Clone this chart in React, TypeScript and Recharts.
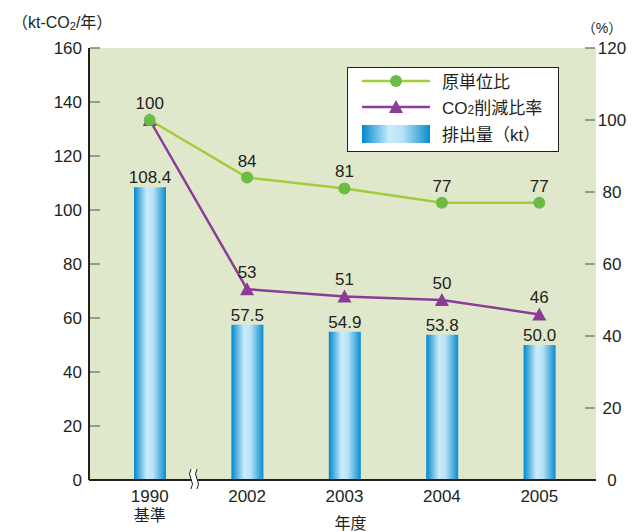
import React from "react";
import {
  ComposedChart,
  Bar,
  Line,
  XAxis,
  YAxis,
  CartesianGrid,
  LabelList,
} from "recharts";

const years = ["1990", "2002", "2003", "2004", "2005"];
const subLabels = ["基準", "", "", "", ""];
const emissions = [108.4, 57.5, 54.9, 53.8, 50.0];
const intensityRatio = [100, 84, 81, 77, 77];
const reductionRate = [100, 53, 51, 50, 46];
const leftTicks = [0, 20, 40, 60, 80, 100, 120, 140, 160];
const rightTicks = [0, 20, 40, 60, 80, 100, 120];

const data = years.map((year, i) => ({
  year,
  sub: subLabels[i],
  emission: emissions[i],
  intensity: intensityRatio[i],
  reduction: reductionRate[i],
}));

const FONT = '"Liberation Sans", Arial, "Noto Sans CJK JP", sans-serif';
const TEXT = "#231f20";
const GREEN_LINE = "#a2cd3a";
const GREEN_DOT = "#6cbb45";
const PURPLE = "#8a3c97";
const TICK = "#808080";

function BarGradient({ id }: { id: string }) {
  return (
    <defs>
      <linearGradient id={id} x1="0" y1="0" x2="1" y2="0">
        <stop offset="0%" stopColor="#0088cc" />
        <stop offset="40%" stopColor="#c9ecfb" />
        <stop offset="60%" stopColor="#b8e2f6" />
        <stop offset="100%" stopColor="#0a8ccd" />
      </linearGradient>
    </defs>
  );
}

function LeftTick(props: any) {
  const { x, y, payload } = props;
  return (
    <g>
      {payload.value !== 0 && (
        <line x1={x + 8} x2={x + 18} y1={y} y2={y} stroke={TICK} strokeWidth={1.5} />
      )}
      <text x={x} y={y} textAnchor="end" dominantBaseline="central" fontSize={17} fill={TEXT} fontFamily={FONT}>
        {payload.value}
      </text>
    </g>
  );
}

function RightTick(props: any) {
  const { x, y, payload } = props;
  return (
    <g>
      {payload.value !== 0 && (
        <line x1={x - 15} x2={x - 5} y1={y} y2={y} stroke={TICK} strokeWidth={1.5} />
      )}
      <text x={x + 12} y={y} textAnchor="middle" dominantBaseline="central" fontSize={17} fill={TEXT} fontFamily={FONT}>
        {payload.value}
      </text>
    </g>
  );
}

function YearTick(props: any) {
  const { x, y, payload, index } = props;
  const sub = subLabels[index];
  return (
    <g>
      <text x={x} y={y + 22} textAnchor="middle" fontSize={17} fill={TEXT} fontFamily={FONT}>
        {payload.value}
      </text>
      {sub && (
        <text x={x} y={y + 41} textAnchor="middle" fontSize={16} fill={TEXT} fontFamily={FONT}>
          {sub}
        </text>
      )}
    </g>
  );
}

function Triangle(props: any) {
  const { cx, cy } = props;
  if (cx == null || cy == null) return null;
  return <polygon points={`${cx},${cy - 7} ${cx - 7},${cy + 6} ${cx + 7},${cy + 6}`} fill={PURPLE} />;
}

// the 1990 value is shared with the other line, so only one label is drawn there
function ReductionLabel(props: any) {
  const { x, y, width, value, index } = props;
  if (index === 0) return null;
  const cx = x + (width || 0) / 2;
  return (
    <text x={cx} y={y - 11} textAnchor="middle" fontSize={17} fill={TEXT} fontFamily={FONT}>
      {value}
    </text>
  );
}

function LegendBox() {
  return (
    <svg
      width={212}
      height={85}
      style={{ position: "absolute", left: 347, top: 67, pointerEvents: "none" }}
    >
      <BarGradient id="legendGrad" />
      <rect x={0.5} y={0.5} width={211} height={84} fill="#fff" stroke={TEXT} strokeWidth={1} />
      <line x1={15} x2={83} y1={14} y2={14} stroke={GREEN_LINE} strokeWidth={2.5} />
      <circle cx={49} cy={14} r={6} fill={GREEN_DOT} />
      <text x={95} y={15} dominantBaseline="central" fontSize={17} fill={TEXT} fontFamily={FONT}>
        原単位比
      </text>
      <line x1={15} x2={83} y1={40} y2={40} stroke={PURPLE} strokeWidth={2.5} />
      <polygon points="49,33 42,46 56,46" fill={PURPLE} />
      <text x={95} y={41} dominantBaseline="central" fontSize={17} fill={TEXT} fontFamily={FONT}>
        CO<tspan fontSize={12} dy={2}>2</tspan>
        <tspan dy={-2}>削減比率</tspan>
      </text>
      <rect x={15} y={58} width={68} height={18} fill="url(#legendGrad)" />
      <text x={95} y={68} dominantBaseline="central" fontSize={17} fill={TEXT} fontFamily={FONT}>
        排出量（kt）
      </text>
    </svg>
  );
}

function Overlay() {
  return (
    <svg
      width={634}
      height={531}
      style={{ position: "absolute", left: 0, top: 0, pointerEvents: "none" }}
    >
      <text x={12} y={28} fontSize={16} fill={TEXT} fontFamily={FONT}>
        （kt-CO<tspan fontSize={11} dy={2}>2</tspan>
        <tspan dy={-2}>/年）</tspan>
      </text>
      <text x={602} y={33} textAnchor="middle" fontSize={14} fill={TEXT} fontFamily={FONT}>
        （%）
      </text>
      <path d="M191,469 q-3,5 0,10 q3,5 0,10 L197,489 q3,-5 0,-10 q-3,-5 0,-10 Z" fill="#fff" stroke="none" />
      <path d="M191,469 q-3,5 0,10 q3,5 0,10" fill="none" stroke={TEXT} strokeWidth={1} />
      <path d="M197,469 q-3,5 0,10 q3,5 0,10" fill="none" stroke={TEXT} strokeWidth={1} />
    </svg>
  );
}

export default function App() {
  return (
    <div style={{ position: "absolute", left: 0, top: 0, width: 634, height: 531, background: "#fff" }}>
      <ComposedChart
        width={634}
        height={531}
        data={data}
        margin={{ top: 48, right: 0, bottom: 0, left: 29 }}
        style={{ fontFamily: FONT }}
      >
        <BarGradient id="barGrad" />
        <CartesianGrid fill="#dfe8cb" stroke="none" horizontal={false} vertical={false} />
        <XAxis
          dataKey="year"
          height={51}
          padding={{ left: 12, right: 8 }}
          tickLine={false}
          tickSize={0}
          tickMargin={0}
          axisLine={{ stroke: TEXT, strokeWidth: 2 }}
          tick={<YearTick />}
          interval={0}
          label={{ value: "年度", position: "insideBottom", offset: 2, dx: 8, fontSize: 16, fill: TEXT, fontFamily: FONT }}
        />
        <YAxis
          yAxisId="left"
          orientation="left"
          width={60}
          domain={[0, 160]}
          ticks={leftTicks}
          tickLine={false}
          tickSize={0}
          tickMargin={7}
          axisLine={{ stroke: TEXT, strokeWidth: 2 }}
          tick={<LeftTick />}
        />
        <YAxis
          yAxisId="right"
          orientation="right"
          width={38}
          domain={[0, 120]}
          ticks={rightTicks}
          tickLine={false}
          tickSize={0}
          tickMargin={4}
          axisLine={false}
          tick={<RightTick />}
        />
        <Bar yAxisId="left" dataKey="emission" barSize={32} fill="url(#barGrad)" isAnimationActive={false}>
          <LabelList
            dataKey="emission"
            position="top"
            offset={4}
            formatter={(v: any) => Number(v).toFixed(1)}
            style={{ fontSize: 17, fill: TEXT, fontFamily: FONT }}
          />
        </Bar>
        <Line
          yAxisId="right"
          dataKey="reduction"
          stroke={PURPLE}
          strokeWidth={2.5}
          dot={<Triangle />}
          activeDot={false}
          isAnimationActive={false}
        >
          <LabelList dataKey="reduction" content={<ReductionLabel />} />
        </Line>
        <Line
          yAxisId="right"
          dataKey="intensity"
          stroke={GREEN_LINE}
          strokeWidth={2.5}
          dot={{ r: 6, fill: GREEN_DOT, stroke: "none" }}
          activeDot={false}
          isAnimationActive={false}
        >
          <LabelList dataKey="intensity" position="top" offset={11} style={{ fontSize: 17, fill: TEXT, fontFamily: FONT }} />
        </Line>
      </ComposedChart>
      <Overlay />
      <LegendBox />
    </div>
  );
}
